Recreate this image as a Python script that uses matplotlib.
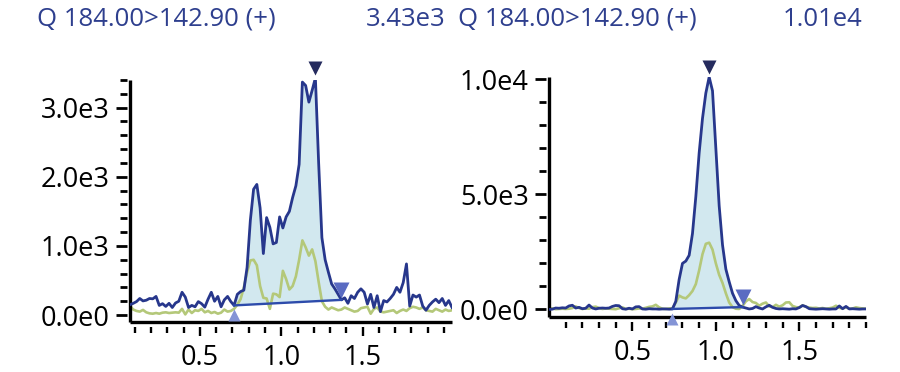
import numpy as np
import matplotlib.pyplot as plt
from matplotlib.ticker import MultipleLocator, FuncFormatter
from matplotlib import transforms

plt.rcParams['font.family'] = ['Open Sans', 'DejaVu Sans']

TITLE = "Q 184.00>142.90 (+)"

# left chromatogram, sampled every 0.02 min from 0.07
left_t0, left_dt = 0.07, 0.02
left_blue = [150, 170, 195, 240, 205, 215, 240, 235, 270, 140, 165, 125, 170, 110, 175, 200,
             330, 260, 110, 140, 120, 195, 165, 115, 230, 330, 200, 270, 120, 220, 270, 195,
             140, 300, 340, 360, 690, 1370, 1820, 1890, 1550, 890, 1410, 1270, 1030, 1050, 1420,
             1260, 1420, 1500, 1700, 1870, 2180, 3370, 3320, 3080, 3250, 3430, 2200, 1120, 800,
             620, 450, 380, 300, 220,
             250, 170, 280, 240, 330, 380, 330, 160, 300, 110, 280, 50, 210, 190, 240, 300, 400,
             330, 470, 740, 130, 290, 260, 290, 130, 70, 140, 190, 230, 180, 240, 140, 210, 110]
left_green = [130, 80, 60, 50, 75, 40, 25, 20, 30, 20, 35, 40, 30, 35, 40, 35, 90, 10, 80, 30,
              70, 60, 90, 40, 60, 30, 45, 20, 35, 80, 50, 60,
              90, 150, 230, 400, 620, 790, 800, 720, 420, 250, 240, 90, 310, 300, 260, 640, 520,
              370, 420, 560, 800, 1080, 980, 860, 950, 780, 480, 200, 120, 80, 110, 90, 70, 80,
              110, 90, 70, 50, 60, 100, 110, 120, 20, 90, 110, 50, 40, 50, 60, 70, 30, 60, 80, 60,
              100, 120, 110, 90, 110, 70, 60, 50, 90, 70, 50, 80, 60, 70]
left_start, left_end = 0.71, 1.37
left_label = "3.43e3"

# right chromatogram, sampled every 0.02 min from 0.00
right_t0, right_dt = 0.0, 0.02
right_blue = [0, 10, 60, 50, 70, 60, 150, 180, 60, 90, 30, 50, 190, 60, 20, 50, 60, 50, 60, 130,
              170, 160, 30, 10, 50, 20, 110, 120, 20, 10, 30, 20, 20, 10, 20, 20, 10, 20,
              350, 1300, 2000, 2100, 2350, 3300, 4900, 6800, 8300, 9400, 10100, 9500, 7000, 4500,
              2800, 1750, 1200, 700, 380, 170, 100, 60, 20, 40, 120, 60, 20, 110, 180, 90, 40, 20,
              30, 20, 10, 30, 20, 80, 170, 120, 30, 20, 10, 20, 30, 20, 10, 20, 20, 150, 30, 130,
              20, 30, 20, 10, 20, 20]
right_green = [60, 40, 10, 20, 30, 20, 30, 60, 130, 60, 20, 40, 30, 100, 120, 60, 20, 40, 30, 20,
               10, 50, 90, 20, 30, 10, 20, 40, 30, 70, 110, 130, 200, 90, 30, 20, 40, 50,
               300, 600, 520, 480, 620, 800, 1100, 1700, 2400, 2850, 2900, 2600, 2000, 1500, 1150,
               700, 300, 100, 30, 20, 150, 350, 450, 320, 280, 160, 250, 300, 130, 100, 200, 120,
               180, 300, 310, 150, 100, 80, 180, 110, 80, 60, 70, 40, 60, 30, 50, 80, 160, 70, 40,
               100, 30, 40, 90, 60, 40, 30]
right_start, right_end = 0.74, 1.16
right_label = "1.01e4"

BLUE = "#27378c"
GREEN = "#b4c879"
FILL = "#d2e8ef"
BASE = "#2d4bab"
TXT = "#2e3f8e"


def sci(v, pos):
    if v == 0:
        return "0.0e0"
    e = int(np.floor(np.log10(abs(v))))
    return f"{v / 10**e:.1f}e{e}"


def draw(ax, t0, dt, blue, green, t_start, t_end, ylim, xlim, ymajor, yminor, xmax_tick):
    t = np.round(t0 + dt * np.arange(len(blue)), 3)
    blue = np.array(blue, dtype=float)
    green = np.array(green, dtype=float)

    i0 = int(np.argmin(abs(t - t_start)))
    i1 = int(np.argmin(abs(t - t_end)))
    tb = t[i0:i1 + 1]
    base = np.interp(tb, [t[i0], t[i1]], [blue[i0], blue[i1]])
    ax.fill_between(tb, base, blue[i0:i1 + 1], color=FILL, lw=0, zorder=1)
    ax.plot(t, green, color=GREEN, lw=1.9, zorder=2)
    ax.plot(t, blue, color=BLUE, lw=2.0, zorder=3)
    ax.plot([t[i0], t[i1]], [blue[i0], blue[i1]], color=BASE, lw=1.7, zorder=4)

    dpt = ax.figure.dpi_scale_trans
    up = ax.transData + transforms.ScaledTranslation(0, 7 / 72, dpt)
    down = ax.transData + transforms.ScaledTranslation(0, -7 / 72, dpt)
    ax.plot(t[i0], blue[i0], marker="^", ms=9, color="#8494d6", mec="none",
            transform=down, clip_on=False, zorder=5)
    ax.plot(t[i1], blue[i1], marker="v", ms=11, color="#5a6bc2", mec="none",
            transform=up, clip_on=False, zorder=5)
    ip = int(np.argmax(blue))
    ax.plot(t[ip], blue[ip], marker="v", ms=10, color="#252b5e", mec="none",
            transform=up, clip_on=False, zorder=5)

    ax.set_xlim(*xlim)
    ax.set_ylim(*ylim)
    ax.set_xticks([0.5, 1.0, 1.5])
    ax.set_xticks(np.round(np.arange(0.1, xmax_tick + 0.001, 0.1), 2), minor=True)
    ax.xaxis.set_major_formatter(FuncFormatter(lambda v, p: f"{v:.1f}"))
    ax.yaxis.set_major_locator(MultipleLocator(ymajor))
    ax.yaxis.set_minor_locator(MultipleLocator(yminor))
    ax.yaxis.set_major_formatter(FuncFormatter(sci))

    for s in ["top", "right"]:
        ax.spines[s].set_visible(False)
    ax.spines["bottom"].set_position(("outward", 3.5))
    ax.spines["left"].set_position(("outward", 2.5))
    ax.spines["bottom"].set_visible(False)
    ax.spines["left"].set_visible(False)
    ax.plot([0, 1], [0, 0], transform=ax.transAxes, color="black", lw=2.4,
            clip_on=False, solid_capstyle="butt")
    ax.plot([0, 0], [0, 1], transform=ax.transAxes, color="black", lw=2.4,
            clip_on=False, solid_capstyle="butt")
    ax.tick_params(axis="x", which="major", length=6.5, width=1.7, pad=6, labelsize=19.5)
    ax.tick_params(axis="x", which="minor", length=4, width=1.7)
    ax.tick_params(axis="y", which="major", length=8, width=2, pad=4, labelsize=19.5)
    ax.tick_params(axis="y", which="minor", length=5, width=2)


fig = plt.figure(figsize=(9, 3.72), dpi=100)
ax1 = fig.add_axes([130 / 900, 1 - 322 / 372, 322 / 900, 242 / 372])
ax2 = fig.add_axes([549 / 900, 1 - 317 / 372, 317 / 900, 240 / 372])

draw(ax1, left_t0, left_dt, left_blue, left_green, left_start, left_end,
     (-100, 3400), (0.07, 2.05), 1000, 200, 2.0)
draw(ax2, right_t0, right_dt, right_blue, right_green, right_start, right_end,
     (-330, 10100), (0.0, 1.9), 5000, 1000, 1.9)

fig.text(37 / 900, 1 - 19 / 372, TITLE, color=TXT, fontsize=18.5, va="center", ha="left")
fig.text(445 / 900, 1 - 19 / 372, left_label, color=TXT, fontsize=18.5, va="center", ha="right")
fig.text(458 / 900, 1 - 19 / 372, TITLE, color=TXT, fontsize=18.5, va="center", ha="left")
fig.text(862 / 900, 1 - 19 / 372, right_label, color=TXT, fontsize=18.5, va="center", ha="right")

fig.savefig("out.png", dpi=100)
